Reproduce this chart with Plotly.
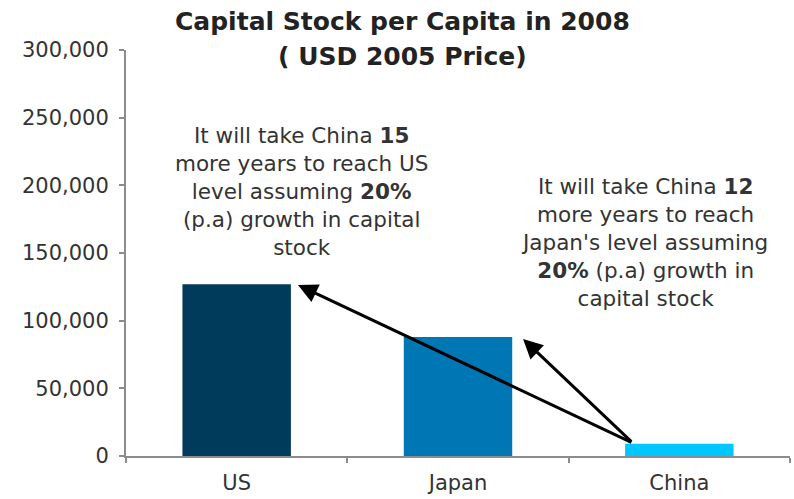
import plotly.graph_objects as go

categories = ["US", "Japan", "China"]
values = [127000, 88000, 9000]
colors = ["#003b5c", "#0077b5", "#00c8ff"]
y_ticks = [0, 50000, 100000, 150000, 200000, 250000, 300000]

title_line1 = "Capital Stock per Capita in 2008"
title_line2 = "( USD 2005 Price)"
note_us = ("It will take China <b>15</b><br>more years to reach US<br>level assuming <b>20%</b>"
           "<br>(p.a) growth in capital<br>stock")
note_jp = ("It will take China <b>12</b><br>more years to reach<br>Japan's level assuming"
           "<br><b>20%</b> (p.a) growth in<br>capital stock")

FONT = "DejaVu Sans"
TXT = "#333333"

fig = go.Figure()
fig.add_trace(go.Bar(
    x=categories, y=values, marker=dict(color=colors, line=dict(width=0)),
    width=0.49, showlegend=False, hoverinfo="x+y",
))

ann = []
ann.append(dict(text="<b>" + title_line1 + "</b>", xref="paper", yref="paper",
                x=0.416, y=1.069, xanchor="center", yanchor="middle", showarrow=False,
                font=dict(family=FONT, size=25, color="#222222")))
ann.append(dict(text="<b>" + title_line2 + "</b>", xref="paper", yref="paper",
                x=0.416, y=0.983, xanchor="center", yanchor="middle", showarrow=False,
                font=dict(family=FONT, size=25, color="#222222")))
ann.append(dict(text=note_us, xref="x", yref="y", x=0.291, y=195800,
                xanchor="center", yanchor="middle", showarrow=False, align="center",
                font=dict(family=FONT, size=21.5, color=TXT)))
ann.append(dict(text=note_jp, xref="x", yref="y", x=1.841, y=158100,
                xanchor="center", yanchor="middle", showarrow=False, align="center",
                font=dict(family=FONT, size=21.5, color=TXT)))

# arrows from China bar to US and Japan bars
tail_x = 1.79
tail_y = values[2] + 600
for tip_x, tip_y in [(0.277, values[0] - 600), (1.294, values[1] - 1500)]:
    ann.append(dict(text="", x=tip_x, y=tip_y, xref="x", yref="y",
                    ax=tail_x, ay=tail_y, axref="x", ayref="y",
                    showarrow=True, arrowhead=2, arrowsize=1.3, arrowwidth=3,
                    arrowcolor="#000000", standoff=0, startstandoff=0))

fig.update_layout(
    width=794, height=499,
    margin=dict(l=126, r=4, t=50, b=43, autoexpand=False),
    paper_bgcolor="white", plot_bgcolor="white",
    annotations=ann,
    font=dict(family=FONT, size=21, color=TXT),
)
fig.update_yaxes(
    range=[0, 300000], tickvals=y_ticks, tickformat=",", automargin=False,
    showline=True, linecolor="#8c8c8c", linewidth=2,
    ticks="outside", ticklen=5, tickcolor="#8c8c8c", tickwidth=2,
    showgrid=False, zeroline=False, ticklabelstandoff=6,
    tickfont=dict(family=FONT, size=21, color=TXT),
)
fig.update_xaxes(
    type="category", range=[-0.5, 2.5], automargin=False,
    showline=True, linecolor="#8c8c8c", linewidth=2,
    ticks="outside", ticklen=5, tickcolor="#8c8c8c", tickwidth=2, tickson="boundaries",
    showgrid=False, zeroline=False, ticklabelstandoff=7,
    tickfont=dict(family=FONT, size=21, color=TXT),
)

fig.write_html("out.html")
